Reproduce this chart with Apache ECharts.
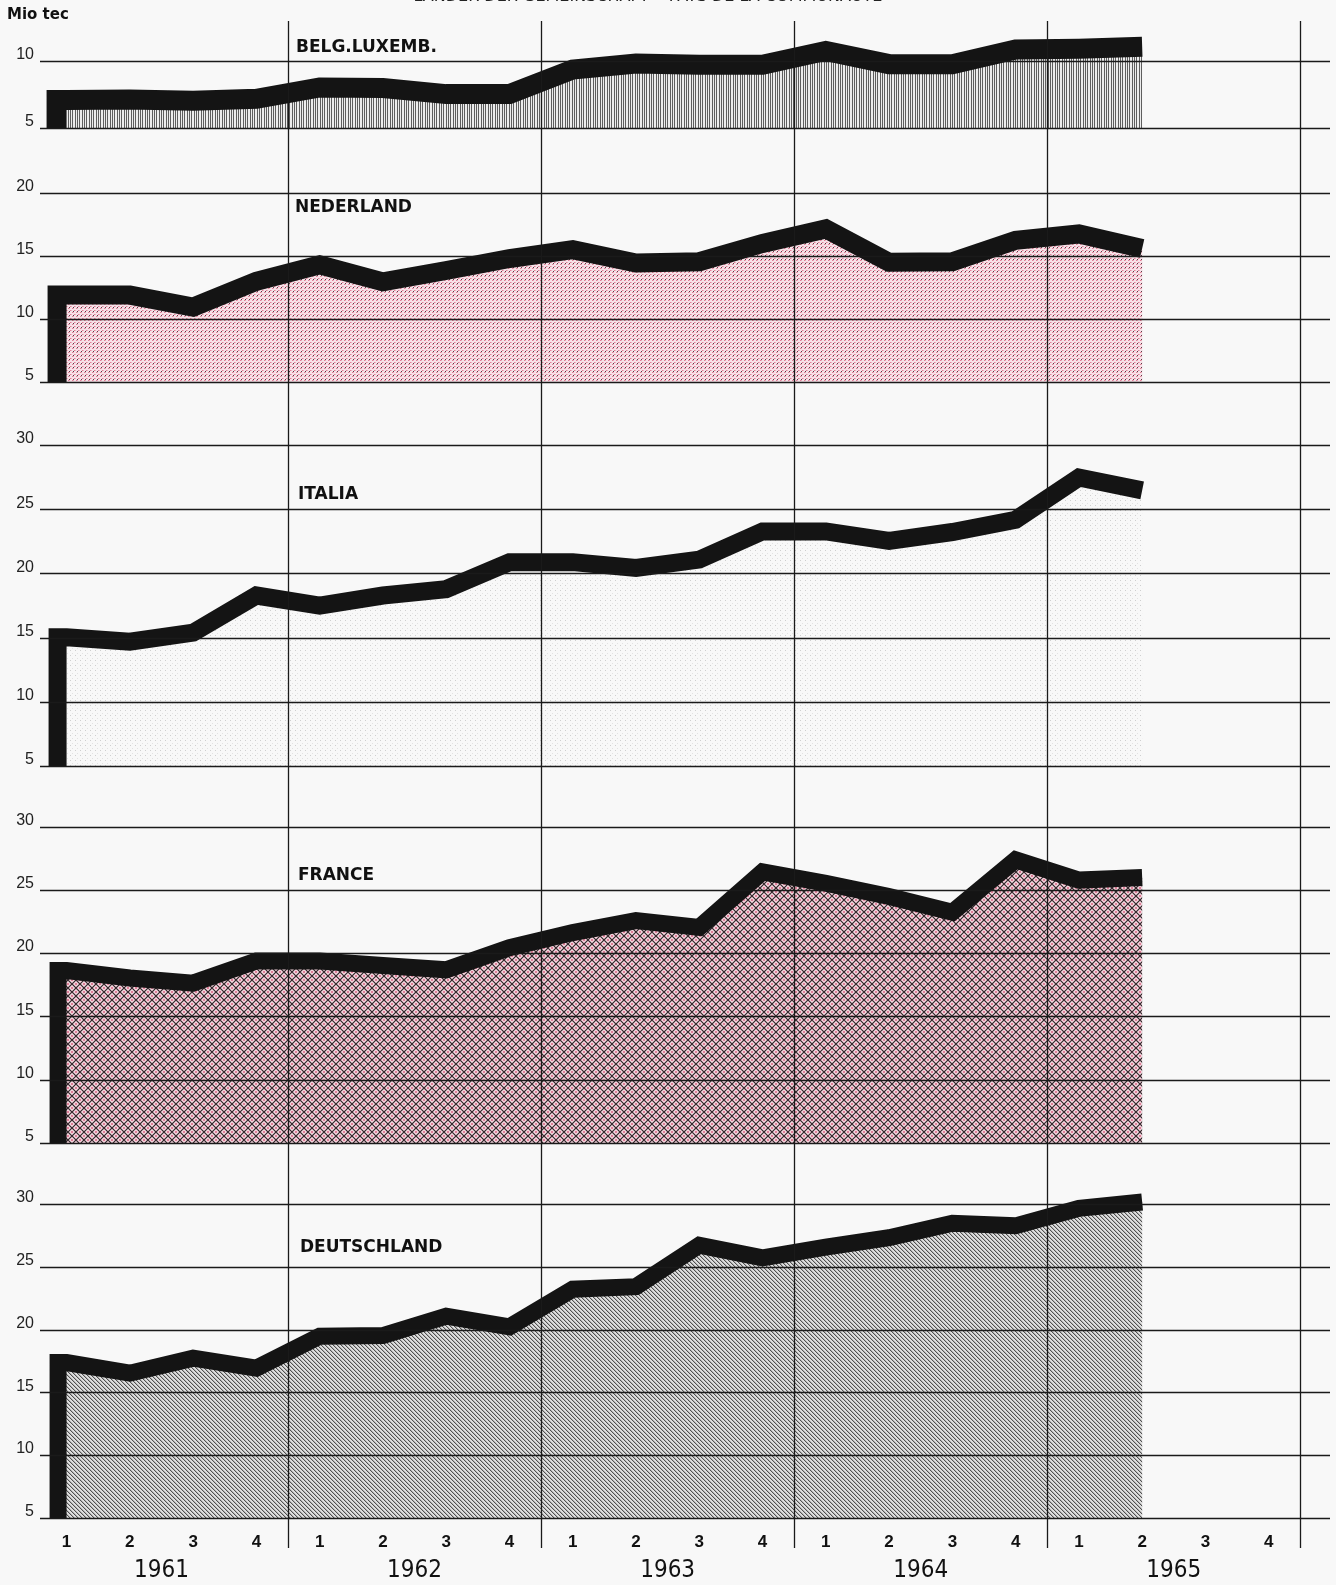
<!DOCTYPE html>
<html><head><meta charset="utf-8">
<script src="https://cdn.jsdelivr.net/npm/echarts@6/dist/echarts.min.js"></script>
<style>html,body{margin:0;padding:0;background:#f8f8f8}#c{width:1336px;height:1585px}</style>
</head><body><div id="c"></div>
<script>
// ---------- data ----------
const QUARTER_POS = [0.5,1.5,2.5,3.5,4.5,5.5,6.5,7.5,8.5,9.5,10.5,11.5,12.5,13.5,14.5,15.5,16.5,17.5];
const QUARTER_LABELS = ['1','2','3','4','1','2','3','4','1','2','3','4','1','2','3','4','1','2','3','4'];
const YEAR_LABELS = ['1961','1962','1963','1964','1965'];
const YEAR_BOUNDS = [4, 8, 12, 16, 20];
const BASE = 5;
const BELG_LUX = [7.1, 7.15, 7.05, 7.2, 8.05, 8.0, 7.55, 7.55, 9.4, 9.85, 9.75, 9.75, 10.8, 9.8, 9.8, 10.9, 10.95, 11.1];
const NEDERLAND = [11.9, 11.9, 10.95, 13.0, 14.3, 12.95, 13.85, 14.8, 15.5, 14.45, 14.55, 16.0, 17.15, 14.5, 14.55, 16.25, 16.75, 15.6];
const ITALIA = [15.05, 14.7, 15.4, 18.3, 17.5, 18.3, 18.8, 20.9, 20.9, 20.45, 21.1, 23.3, 23.3, 22.55, 23.25, 24.2, 27.5, 26.5];
const FRANCE = [18.65, 18.05, 17.65, 19.4, 19.4, 19.05, 18.7, 20.45, 21.65, 22.6, 22.05, 26.45, 25.55, 24.5, 23.25, 27.4, 25.8, 26.0];
const DEUTSCHLAND = [17.4, 16.55, 17.75, 16.95, 19.5, 19.55, 21.1, 20.25, 23.25, 23.45, 26.75, 25.75, 26.6, 27.35, 28.5, 28.3, 29.7, 30.2];
const PANEL_NAMES = ['BELG.LUXEMB.', 'NEDERLAND', 'ITALIA', 'FRANCE', 'DEUTSCHLAND'];
const PANEL_VALUES = [BELG_LUX, NEDERLAND, ITALIA, FRANCE, DEUTSCHLAND];
const PANEL_MAX = [10, 20, 30, 30, 30];

// ---------- layout / style ----------
const LAYOUT = [
  {top: 61.5, bottom: 128, tx: 296, ty: 47.5, lw: 20},
  {top: 193, bottom: 382, tx: 295, ty: 208, lw: 19},
  {top: 445.5, bottom: 766, tx: 298, ty: 495, lw: 18},
  {top: 827, bottom: 1143, tx: 298, ty: 876, lw: 17},
  {top: 1204.5, bottom: 1518, tx: 300, ty: 1248, lw: 17}
];
const GL = 40, GR = 6, XMIN = 0.08, QW = 63.27;
const XMAX = XMIN + (1336 - GL - GR) / QW;

function tile(w, h, bg, draw) {
  const c = document.createElement('canvas');
  c.width = w; c.height = h;
  const ctx = c.getContext('2d');
  if (bg) { ctx.fillStyle = bg; ctx.fillRect(0, 0, w, h); }
  draw(ctx);
  return {image: c, repeat: 'repeat'};
}
function px(ctx, col, pts) { ctx.fillStyle = col; pts.forEach(p => ctx.fillRect(p[0], p[1], p[2] || 1, p[3] || 1)); }

const PATTERNS = [
  tile(7, 1, '#ececec', ctx => px(ctx, '#5e5e5e', [[0,0],[2,0],[5,0]])),
  tile(4, 4, '#f7e2e8', ctx => { px(ctx, '#e07f98', [[0,0],[2,2]]); px(ctx, '#ebb0be', [[1,0],[3,2]]); px(ctx, '#5a3a45', [[1,3]]); }),
  tile(5, 5, null, ctx => { px(ctx, '#cfcfcf', [[0,0]]); px(ctx, '#e2e2e2', [[2,3]]); }),
  tile(8, 8, '#f4d6de', ctx => {
    px(ctx, '#de7f98', [[3,0,2,1],[3,7,2,1],[0,3,1,2],[7,3,1,2]]);
    ctx.strokeStyle = '#30262a'; ctx.lineWidth = 1.2;
    ctx.beginPath(); ctx.moveTo(-1,-1); ctx.lineTo(9,9); ctx.moveTo(9,-1); ctx.lineTo(-1,9); ctx.stroke();
  }),
  tile(4, 4, '#dedede', ctx => { px(ctx, '#505050', [[0,0],[1,1],[2,2],[3,3]]); px(ctx, '#b4b4b4', [[1,0],[2,1],[3,2],[0,3]]); })
];

const grid = [], xAxis = [], yAxis = [], series = [], graphic = [];
LAYOUT.forEach((L, i) => {
  grid.push({left: GL, right: GR, top: L.top, height: L.bottom - L.top});
  xAxis.push({type: 'value', gridIndex: i, min: XMIN, max: XMAX, show: false});
  yAxis.push({
    type: 'value', gridIndex: i, min: BASE, max: PANEL_MAX[i], interval: 5, z: 3,
    axisLine: {show: false}, axisTick: {show: false},
    splitLine: {show: true, lineStyle: {color: '#1a1a1a', width: 1.3}},
    axisLabel: {margin: 6, fontSize: 16, fontFamily: 'Liberation Sans, Arial, sans-serif', color: '#222',
      verticalAlign: 'bottom', lineHeight: 13}
  });
  const vals = PANEL_VALUES[i];
  // left vertical bar: its right edge sits on the first quarter position
  const barX = QUARTER_POS[0] - (L.lw / 2) / QW;
  const data = [[barX, BASE], [barX, vals[0]]].concat(vals.map((v, k) => [QUARTER_POS[k], v]));
  series.push({
    type: 'line', xAxisIndex: i, yAxisIndex: i, data: data, symbol: 'none', showSymbol: false,
    clip: false, silent: true, z: 2,
    lineStyle: {color: '#141414', width: L.lw, join: 'miter', cap: 'butt'},
    areaStyle: {color: PATTERNS[i], opacity: 1, origin: 'start'}
  });
  graphic.push({type: 'text', x: L.tx, y: L.ty, z: 50,
    style: {text: PANEL_NAMES[i], font: 'bold 17px "DejaVu Sans", sans-serif', fill: '#111',
      textVerticalAlign: 'middle', verticalAlign: 'middle'}});
});

// background grid for year separators
grid.push({left: GL, right: GR, top: 21, height: 1527});
xAxis.push({type: 'value', gridIndex: 5, min: XMIN, max: XMAX, show: false});
yAxis.push({type: 'value', gridIndex: 5, min: 0, max: 1, show: false});
series.push({
  type: 'line', xAxisIndex: 5, yAxisIndex: 5, data: [[XMIN, 0], [XMAX, 0]], symbol: 'none',
  lineStyle: {width: 0, opacity: 0}, silent: true, z: 4,
  markLine: {silent: true, symbol: ['none', 'none'], label: {show: false},
    lineStyle: {color: '#1a1a1a', width: 1.3, type: 'solid'},
    emphasis: {disabled: true},
    data: YEAR_BOUNDS.map(b => ({xAxis: b}))}
});

// label grid
grid.push({left: GL - XMIN * QW, width: 20 * QW, top: 1518.5, height: 1});
xAxis.push({type: 'category', gridIndex: 6, data: QUARTER_LABELS, position: 'bottom',
  axisLine: {show: false}, axisTick: {show: false},
  axisLabel: {interval: 0, margin: 14, fontSize: 17, fontWeight: 'bold', color: '#111',
    fontFamily: 'Liberation Sans, Arial, sans-serif'}});
xAxis.push({type: 'category', gridIndex: 6, data: YEAR_LABELS, position: 'bottom',
  axisLine: {show: false}, axisTick: {show: false},
  axisLabel: {interval: 0, margin: 39, fontSize: 24, color: '#111',
    fontFamily: '"Liberation Sans Narrow", "DejaVu Sans Condensed", sans-serif'}});
yAxis.push({type: 'value', gridIndex: 6, show: false});

graphic.push({type: 'text', x: 7, y: 15, z: 50,
  style: {text: 'Mio tec', font: 'bold 15px "DejaVu Sans", sans-serif', fill: '#111',
    textVerticalAlign: 'middle', verticalAlign: 'middle'}});
graphic.push({type: 'text', x: 648, y: -3, z: 50,
  style: {text: 'LÄNDER DER GEMEINSCHAFT • PAYS DE LA COMMUNAUTÉ', font: '16px "DejaVu Sans", sans-serif',
    fill: '#222', textAlign: 'center', align: 'center', textVerticalAlign: 'middle', verticalAlign: 'middle'}});

const chart = echarts.init(document.getElementById('c'), null, {renderer: 'canvas'});
chart.setOption({
  animation: false,
  backgroundColor: '#f8f8f8',
  grid: grid, xAxis: xAxis, yAxis: yAxis, series: series, graphic: graphic
});
</script></body></html>
